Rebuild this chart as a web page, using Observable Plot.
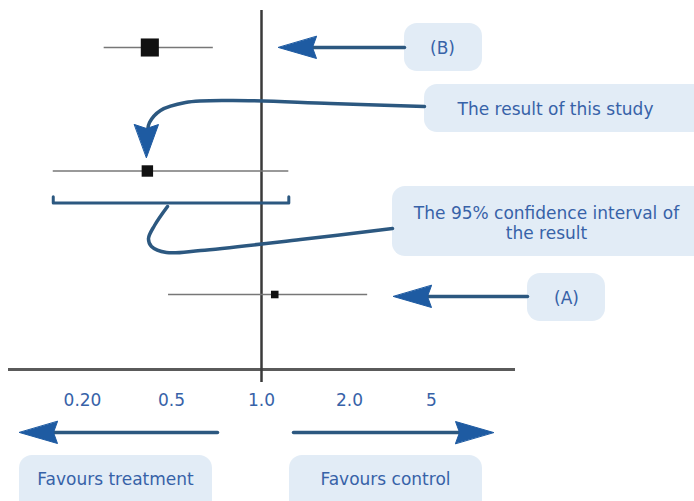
<!DOCTYPE html>
<html><head><meta charset="utf-8">
<script src="https://cdn.jsdelivr.net/npm/d3@7"></script>
<script src="https://cdn.jsdelivr.net/npm/@observablehq/plot@0.6"></script>
<style>
html,body{margin:0;padding:0;background:#fff;}
#chart{position:relative;width:694px;height:501px;overflow:hidden;}
#chart svg{position:absolute;left:0;top:0;}
</style></head><body><div id="chart"></div>
<script>
// ---- data ----
const studies = ["(B)", "This study", "(A)"];
const estimates = [0.40, 0.39, 1.11];
const lower = [0.25, 0.148, 0.485];
const upper = [0.69, 1.24, 2.45];
const weights = [40, 16, 7];
const tickValues = [0.2, 0.5, 1, 2, 5];
const tickLabels = ["0.20", "0.5", "1.0", "2.0", "5"];
const calloutLabels = ["(B)", "The result of this study", "The 95% confidence interval of\nthe result", "(A)"];
const favourLabels = ["Favours treatment", "Favours control"];

// ---- tables built from the arrays ----
const rows = studies.map((s, i) => ({study: s, row: i, est: estimates[i], lo: lower[i], hi: upper[i], w: weights[i]}));
const labelMap = new Map(tickValues.map((v, i) => [v, tickLabels[i]]));
const thisStudy = rows[1];
const AXIS_ROW = 2.607;
const bracket = [
  {x: thisStudy.lo, y: thisStudy.row - 0.05},
  {x: thisStudy.lo, y: thisStudy.row},
  {x: thisStudy.hi, y: thisStudy.row},
  {x: thisStudy.hi, y: thisStudy.row - 0.05}
];

const font = "'DejaVu Sans', sans-serif";
const textBlue = "#3762a8";
const ink = "#2c5880";
const headBlue = "#1e5ba2";
const boxFill = "#e2ecf6";

const base = Plot.plot({
  width: 694, height: 501,
  marginTop: 10, marginBottom: 119, marginLeft: 8, marginRight: 179,
  style: {fontFamily: font, fontSize: "17px", background: "transparent"},
  x: {type: "log", domain: tickValues, range: [82, 171, 261, 349, 431]},
  y: {domain: [0, 2], range: [47, 294], axis: null},
  r: {domain: [0, 40], range: [0, 10.2]},
  marks: [
    Plot.ruleY([AXIS_ROW], {stroke: "#5a5a5a", strokeWidth: 3}),
    Plot.ruleX([1], {stroke: "#3a3a3a", strokeWidth: 2.5}),
    Plot.ruleY(rows, {x1: "lo", x2: "hi", y: "row", stroke: "#777", strokeWidth: 1.6}),
    Plot.dot(rows, {x: "est", y: "row", r: "w", symbol: "square", fill: "#111"}),
    Plot.line(bracket, {x: "x", y: "y", dy: 32, stroke: ink, strokeWidth: 3, curve: "linear"}),
    Plot.axisX({ticks: tickValues, tickFormat: d => labelMap.get(d), tickSize: 0, tickPadding: 11, fill: textBlue, anchor: "bottom"})
  ]
});

// ---- annotation layer (pixel layout) ----
const boxes = [
  {x1: 404, x2: 482, y1: 23, y2: 71, tx: 442, ty: 47, label: calloutLabels[0]},
  {x1: 424, x2: 710, y1: 84, y2: 132, tx: 555, ty: 108, label: calloutLabels[1]},
  {x1: 392, x2: 710, y1: 186, y2: 256, tx: 546, ty: 222, label: calloutLabels[2]},
  {x1: 527, x2: 605, y1: 273, y2: 321, tx: 566, ty: 297, label: calloutLabels[3]},
  {x1: 19, x2: 212, y1: 455, y2: 515, tx: 115, ty: 478, label: favourLabels[0]},
  {x1: 289, x2: 482, y1: 455, y2: 515, tx: 385, ty: 478, label: favourLabels[1]}
];
const shafts = [
  {id: "b", pts: [[404, 47], [310, 47]]},
  {id: "a", pts: [[527, 296], [425, 296]]},
  {id: "l", pts: [[217, 432], [50, 432]]},
  {id: "r", pts: [[293, 432], [462, 432]]},
  {id: "res", pts: [[424, 106], [330, 103], [230, 100], [185, 102], [160, 110], [149, 122], [147, 130]]},
  {id: "ci", pts: [[392, 228], [300, 239], [200, 250], [166, 252], [151, 246], [148, 238], [154, 225], [167, 206]]}
].flatMap(s => s.pts.map(([x, y]) => ({id: s.id, x, y})));
function head(id, tx, ty, dx, dy, L = 38, W = 11) {
  const px = -dy, py = dx;
  return [
    [tx, ty],
    [tx + dx * L + px * W, ty + dy * L + py * W],
    [tx + dx * (L - 4), ty + dy * (L - 4)],
    [tx + dx * L - px * W, ty + dy * L - py * W]
  ].map(([x, y]) => ({id, x, y}));
}
const heads = [
  ...head("b", 278, 47, 1, 0),
  ...head("a", 393, 296, 1, 0),
  ...head("l", 19, 432, 1, 0),
  ...head("r", 493, 432, -1, 0),
  ...head("res", 146, 157, 0, -1, 33, 12)
];

const overlay = Plot.plot({
  width: 694, height: 501, margin: 0,
  style: {fontFamily: font, fontSize: "17px", background: "transparent", pointerEvents: "none"},
  x: {domain: [0, 694], range: [0, 694], axis: null},
  y: {domain: [0, 501], range: [0, 501], axis: null},
  marks: [
    Plot.rect(boxes, {x1: "x1", x2: "x2", y1: "y1", y2: "y2", rx: 13, ry: 13, fill: boxFill}),
    Plot.text(boxes, {x: "tx", y: "ty", text: "label", fill: textBlue, fontSize: 17, lineHeight: 1.18}),
    Plot.line(shafts, {x: "x", y: "y", z: "id", curve: "catmull-rom", stroke: ink, strokeWidth: 3.5}),
    Plot.line(heads, {x: "x", y: "y", z: "id", curve: "linear-closed", fill: headBlue, stroke: headBlue, strokeWidth: 1})
  ]
});

const chart = document.getElementById("chart");
chart.appendChild(base);
chart.appendChild(overlay);
</script></body></html>
